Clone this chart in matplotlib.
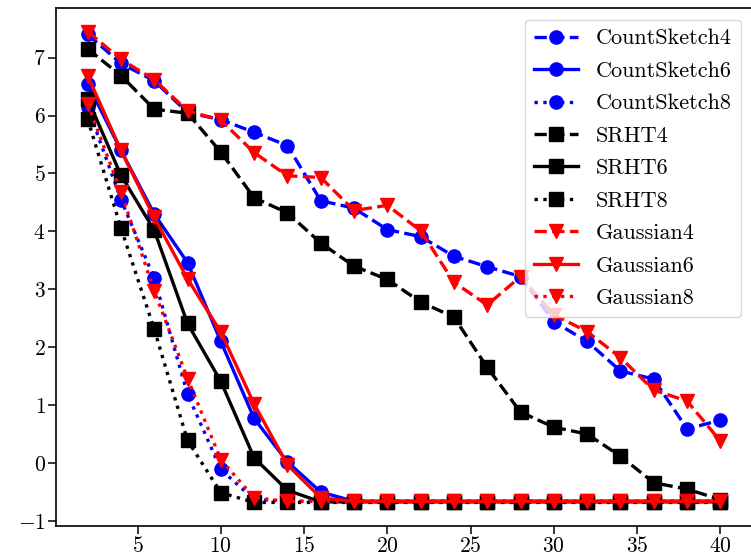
import matplotlib
matplotlib.use("Agg")
import matplotlib.pyplot as plt
import numpy as np

plt.rcParams['font.family'] = 'serif'
plt.rcParams['font.serif'] = ['cmr10']
plt.rcParams['mathtext.fontset'] = 'cm'
plt.rcParams['axes.formatter.use_mathtext'] = True

# x values: 2,4,...,40
xs = [2, 4, 6, 8, 10, 12, 14, 16, 18, 20, 22, 24, 26, 28, 30, 32, 34, 36, 38, 40]

cs4 = [7.40, 6.90, 6.60, 6.05, 5.93, 5.71, 5.48, 4.53, 4.40, 4.03, 3.91, 3.57, 3.39, 3.22, 2.44, 2.10, 1.59, 1.45, 0.59, 0.74]
cs6 = [6.55, 5.40, 4.30, 3.46, 2.10, 0.77, 0.02, -0.50, -0.66, -0.66, -0.66, -0.66, -0.66, -0.66, -0.66, -0.66, -0.66, -0.66, -0.66, -0.66]
cs8 = [6.15, 4.55, 3.19, 1.19, -0.11, -0.63, -0.66, -0.66, -0.66, -0.66, -0.66, -0.66, -0.66, -0.66, -0.66, -0.66, -0.66, -0.66, -0.66, -0.66]

srht4 = [7.15, 6.69, 6.11, 6.04, 5.37, 4.58, 4.32, 3.80, 3.40, 3.17, 2.78, 2.52, 1.65, 0.88, 0.62, 0.50, 0.12, -0.34, -0.45, -0.63]
srht6 = [6.29, 4.97, 4.02, 2.41, 1.41, 0.09, -0.47, -0.67, -0.67, -0.67, -0.67, -0.67, -0.67, -0.67, -0.67, -0.67, -0.67, -0.67, -0.67, -0.67]
srht8 = [5.94, 4.06, 2.31, 0.39, -0.51, -0.68, -0.68, -0.68, -0.68, -0.68, -0.68, -0.68, -0.68, -0.68, -0.68, -0.68, -0.68, -0.68, -0.68, -0.68]

gau4 = [7.45, 6.97, 6.62, 6.08, 5.92, 5.36, 4.96, 4.93, 4.36, 4.45, 4.01, 3.12, 2.73, 3.22, 2.56, 2.27, 1.82, 1.26, 1.07, 0.38]
gau6 = [6.69, 5.40, 4.24, 3.18, 2.26, 1.02, -0.03, -0.60, -0.66, -0.66, -0.66, -0.66, -0.66, -0.66, -0.66, -0.66, -0.66, -0.66, -0.66, -0.66]
gau8 = [6.20, 4.68, 2.97, 1.46, 0.06, -0.60, -0.66, -0.66, -0.66, -0.66, -0.66, -0.66, -0.66, -0.66, -0.66, -0.66, -0.66, -0.66, -0.66, -0.66]

fig = plt.figure(figsize=(7.51, 5.57), dpi=100)
ax = fig.add_axes([56/751, 31/557, 696/751, 518/557])

lw = 2.4
ms = 9.5
ax.plot(xs, cs4, color='b', ls='--', marker='o', lw=lw, ms=ms, label='CountSketch4')
ax.plot(xs, cs6, color='b', ls='-', marker='o', lw=lw, ms=ms, label='CountSketch6')
ax.plot(xs, cs8, color='b', ls=':', marker='o', lw=lw, ms=ms, label='CountSketch8')
ax.plot(xs, srht4, color='k', ls='--', marker='s', lw=lw, ms=ms, label='SRHT4')
ax.plot(xs, srht6, color='k', ls='-', marker='s', lw=lw, ms=ms, label='SRHT6')
ax.plot(xs, srht8, color='k', ls=':', marker='s', lw=lw, ms=ms, label='SRHT8')
ax.plot(xs, gau4, color='r', ls='--', marker='v', lw=lw, ms=ms, label='Gaussian4')
ax.plot(xs, gau6, color='r', ls='-', marker='v', lw=lw, ms=ms, label='Gaussian6')
ax.plot(xs, gau8, color='r', ls=':', marker='v', lw=lw, ms=ms, label='Gaussian8')

ax.set_xticks([5, 10, 15, 20, 25, 30, 35, 40])
ax.set_yticks([-1, 0, 1, 2, 3, 4, 5, 6, 7])
ax.tick_params(labelsize=15.5, width=1.1, length=5.5, pad=2)
for s in ax.spines.values():
    s.set_linewidth(1.2)

ax.legend(loc='upper right', fontsize=16, labelspacing=0.58, borderaxespad=0,
          bbox_to_anchor=(741/751, 1 - 20/557), bbox_transform=fig.transFigure)
fig.savefig('out.png', dpi=100)
